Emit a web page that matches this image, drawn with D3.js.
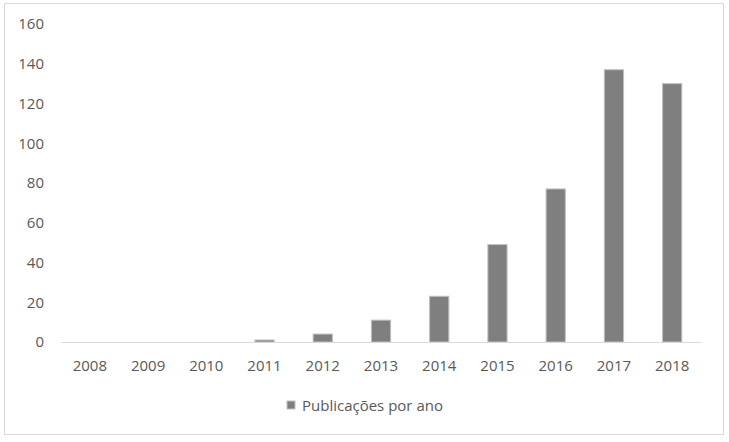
<!DOCTYPE html>
<html>
<head>
<meta charset="utf-8">
<script src="https://cdn.jsdelivr.net/npm/d3@7"></script>
<style>
  body { margin: 0; background: #fff; }
  text { font-family: "Open Sans", sans-serif; fill: #595959; }
</style>
</head>
<body>
<div id="chart"></div>
<script>
// publications per year
const years = ["2008", "2009", "2010", "2011", "2012", "2013", "2014", "2015", "2016", "2017", "2018"];
const publications = [0, 0, 0, 1, 4, 11, 23, 49, 77, 137, 130];
const yTicks = [0, 20, 40, 60, 80, 100, 120, 140, 160];
const seriesName = "Publicações por ano";

const w = 729, h = 442;
const margin = {top: 24, right: 28, bottom: 100, left: 61};

const svg = d3.select("#chart")
  .append("svg")
  .attr("width", w)
  .attr("height", h);

// outer frame
svg.append("rect")
  .attr("x", 4.5).attr("y", 3.5)
  .attr("width", 719).attr("height", 431)
  .attr("fill", "none")
  .attr("stroke", "#d9d9d9");

const x = d3.scaleBand()
  .domain(years)
  .range([margin.left, w - margin.right])
  .paddingInner(0.67)
  .paddingOuter(0.33);

const y = d3.scaleLinear()
  .domain([0, 160])
  .range([h - margin.bottom, margin.top]);

// y labels (no axis line, no grid)
const axisY = svg.append("g")
  .attr("transform", `translate(${margin.left - 17},0)`)
  .call(d3.axisLeft(y).tickValues(yTicks).tickSize(0).tickPadding(0))
  .call(g => g.select(".domain").remove());
axisY.selectAll("text").style("font-size", "15px").attr("fill", "#595959");

// bars
svg.append("g")
  .selectAll("rect")
  .data(years.map((d, i) => ({year: d, value: publications[i]})))
  .join("rect")
    .attr("x", d => x(d.year))
    .attr("y", d => y(d.value))
    .attr("width", x.bandwidth())
    .attr("height", d => y(0) - y(d.value))
    .attr("fill", "#7f7f7f")
    .attr("stroke", "#bfbfbf")
    .attr("stroke-width", 1);

// x axis
const axisX = svg.append("g")
  .attr("transform", `translate(0,${y(0)})`)
  .call(d3.axisBottom(x).tickSize(0).tickPadding(18));
axisX.select(".domain").attr("stroke", "#d9d9d9");
axisX.selectAll("text").style("font-size", "15px").attr("fill", "#595959");

// legend
const legend = svg.append("g").attr("transform", "translate(287,401)");
legend.append("rect")
  .attr("width", 8).attr("height", 8)
  .attr("fill", "#7f7f7f").attr("stroke", "#bfbfbf");
legend.append("text")
  .attr("x", 15).attr("y", 10)
  .style("font-size", "15px")
  .text(seriesName);
</script>
</body>
</html>
